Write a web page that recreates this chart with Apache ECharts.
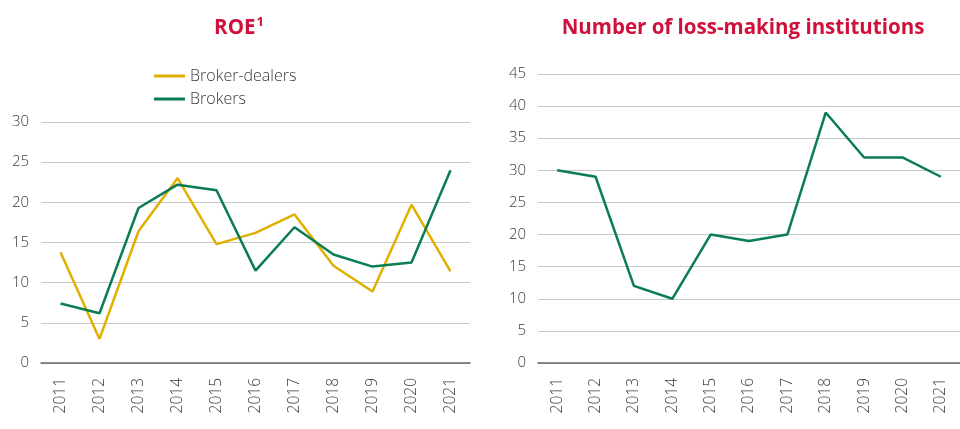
<!DOCTYPE html>
<html>
<head>
<meta charset="utf-8">
<script src="https://cdn.jsdelivr.net/npm/echarts@6/dist/echarts.min.js"></script>
<style>
  html, body { margin: 0; padding: 0; background: #fff; }
  #main { width: 960px; height: 429px; }
</style>
</head>
<body>
<div id="main"></div>
<script>
// data
const years = ['2011', '2012', '2013', '2014', '2015', '2016', '2017', '2018', '2019', '2020', '2021'];
const brokerDealers = [13.8, 3.0, 16.4, 23.0, 14.8, 16.2, 18.5, 12.1, 8.9, 19.7, 11.4];
const brokers = [7.4, 6.2, 19.3, 22.2, 21.5, 11.5, 16.9, 13.5, 12.0, 12.5, 24.0];
const lossMaking = [30, 29, 12, 10, 20, 19, 20, 39, 32, 32, 29];

const red = '#d0103a';
const yellow = '#e0b000';
const green = '#0a7d52';
const font = "'Open Sans', 'Noto Sans', sans-serif";

const myChart = echarts.init(document.getElementById('main'), null, { renderer: 'canvas' });

const xAxisBase = {
  type: 'category',
  data: years,
  boundaryGap: true,
  axisTick: { show: false },
  axisLine: { show: true, lineStyle: { color: '#666', width: 1.5 } },
  axisLabel: {
    rotate: 90,
    margin: 15,
    color: '#3a3a3a',
    fontSize: 15.5,
    fontFamily: font,
    fontWeight: 300
  }
};

const yAxisBase = {
  type: 'value',
  min: 0,
  interval: 5,
  axisLine: { show: false },
  axisTick: { show: false },
  splitLine: { lineStyle: { color: '#c8c8c8', width: 1 } },
  axisLabel: {
    margin: 12,
    color: '#3a3a3a',
    fontSize: 15,
    fontFamily: font,
    fontWeight: 300
  }
};

const option = {
  animation: false,
  backgroundColor: '#fff',
  title: [
    {
      text: '{a|ROE}{b|1}',
      left: 234,
      top: 11,
      textAlign: 'center',
      textStyle: {
        rich: {
          a: { color: red, fontSize: 20.5, fontWeight: 'bold', fontFamily: font },
          b: { color: red, fontSize: 13, fontWeight: 'bold', fontFamily: font, verticalAlign: 'top', padding: [0, 0, 12, 1] }
        }
      }
    },
    {
      text: 'Number of loss-making institutions',
      left: 738,
      top: 13,
      textAlign: 'center',
      textStyle: { color: red, fontSize: 20.5, fontWeight: 'bold', fontFamily: font }
    }
  ],
  legend: {
    left: 149,
    top: 63,
    orient: 'vertical',
    itemWidth: 31,
    itemHeight: 3,
    itemGap: 7,
    icon: 'rect',
    textStyle: { color: '#3a3a3a', fontSize: 16, fontFamily: font, fontWeight: 300 },
    data: ['Broker-dealers', 'Brokers']
  },
  grid: [
    { left: 41, right: 490, top: 122, bottom: 66 },
    { left: 538, right: -9, top: 74, bottom: 66 }
  ],
  xAxis: [
    Object.assign({ gridIndex: 0 }, xAxisBase),
    Object.assign({ gridIndex: 1 }, xAxisBase)
  ],
  yAxis: [
    Object.assign({ gridIndex: 0, max: 30 }, yAxisBase),
    Object.assign({ gridIndex: 1, max: 45 }, yAxisBase)
  ],
  series: [
    {
      name: 'Broker-dealers',
      type: 'line',
      xAxisIndex: 0,
      yAxisIndex: 0,
      data: brokerDealers,
      symbol: 'none',
      color: yellow,
      lineStyle: { color: yellow, width: 2.5 }
    },
    {
      name: 'Brokers',
      type: 'line',
      xAxisIndex: 0,
      yAxisIndex: 0,
      data: brokers,
      symbol: 'none',
      color: green,
      lineStyle: { color: green, width: 2.5 }
    },
    {
      name: 'Loss-making institutions',
      type: 'line',
      xAxisIndex: 1,
      yAxisIndex: 1,
      data: lossMaking,
      symbol: 'none',
      color: green,
      lineStyle: { color: green, width: 2.5 }
    }
  ]
};

option && myChart.setOption(option);
</script>
</body>
</html>
